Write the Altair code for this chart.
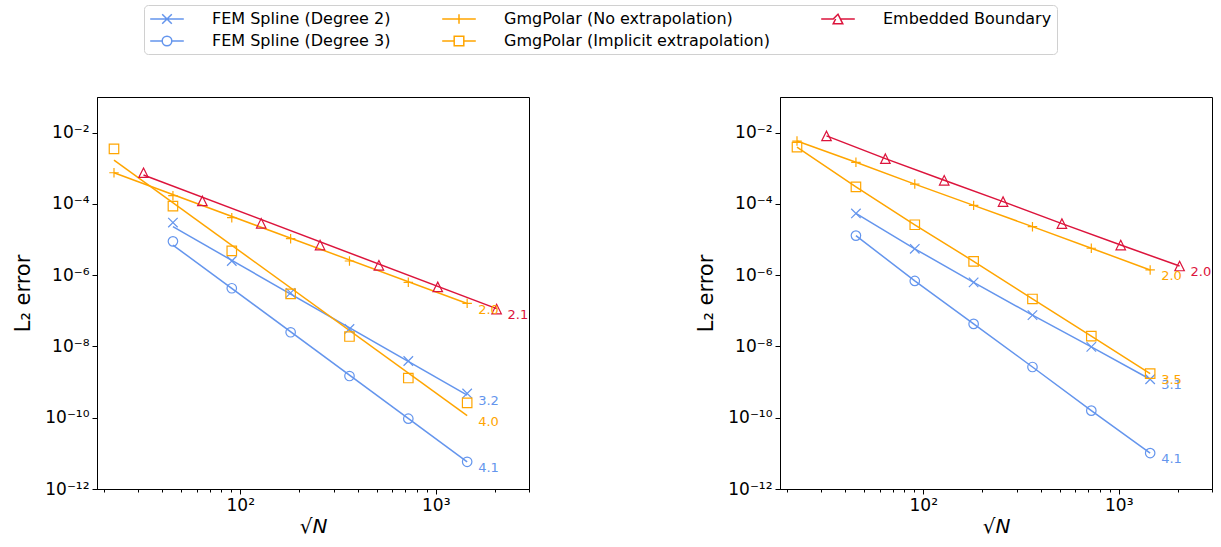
import math

import altair as alt
import pandas as pd

# ---------------------------------------------------------------- series
SERIES = [
    "FEM Spline (Degree 2)",
    "FEM Spline (Degree 3)",
    "GmgPolar (No extrapolation)",
    "GmgPolar (Implicit extrapolation)",
    "Embedded Boundary",
]
COLORS = ["#6495ED", "#6495ED", "#FFA500", "#FFA500", "#DC143C"]
# short keys for the marker / label channels (kept apart from the legend)
KEYS = ["k0", "k1", "k2", "k3", "k4"]

# sqrt(N) of the grids
x_fem = [45.25, 90.5, 181, 362, 724, 1448]
x_gmg = [22.6, 45.25, 90.5, 181, 362, 724, 1448]
x_eb = [32, 64, 128, 256, 512, 1024, 2048]

# ---------------------------------------------------------------- left case
left_fem2 = [3.0e-5, 2.5e-6, 3.2e-7, 3.1e-8, 3.9e-9, 4.8e-10]
left_fem3 = [8.9e-6, 4.3e-7, 2.5e-8, 1.48e-9, 9.4e-11, 5.8e-12]
left_gmg_no = [7.5e-4, 1.7e-4, 4.1e-5, 1.06e-5, 2.5e-6, 6.3e-7, 1.62e-7]
left_gmg_imp = [3.5e-3, 8.7e-5, 4.8e-6, 3.0e-7, 1.9e-8, 1.3e-9, 2.6e-10]
left_eb = [7.5e-4, 1.21e-4, 2.85e-5, 7.0e-6, 1.89e-6, 4.7e-7, 1.12e-7]

# fitted power-law lines (start and end point of each fit)
left_fit_x = [[45.25, 1448], [45.25, 1448], [22.6, 1448], [22.6, 1448], [32, 2048]]
left_fit_y = [[2.3e-5, 4.3e-10], [7.0e-6, 5.8e-12], [7.5e-4, 1.6e-7],
              [1.7e-3, 1.14e-10], [6.5e-4, 1.15e-7]]
left_rates = ["3.2", "4.1", "2.0", "4.0", "2.1"]

# ---------------------------------------------------------------- right case
right_fem2 = [5.4e-5, 5.5e-6, 6.3e-7, 7.6e-8, 9.7e-9, 1.2e-9]
right_fem3 = [1.29e-5, 6.9e-7, 4.3e-8, 2.65e-9, 1.58e-10, 1.02e-11]
right_gmg_no = [5.8e-3, 1.47e-3, 3.6e-4, 9.1e-5, 2.3e-5, 5.7e-6, 1.4e-6]
right_gmg_imp = [3.9e-3, 3.0e-4, 2.6e-5, 2.45e-6, 2.15e-7, 1.96e-8, 1.72e-9]
right_eb = [8.1e-3, 1.86e-3, 4.6e-4, 1.16e-4, 2.8e-5, 7.0e-6, 1.81e-6]
right_rates = ["3.1", "4.1", "2.0", "3.5", "2.0"]

# ---------------------------------------------------------------- axes
X_DOMAIN = [18.5, 3000]
Y_DOMAIN = [1e-12, 1e-1]
x_tick_values = [100, 1000]
x_tick_labels = ["10²", "10³"]
x_minor_values = [20, 30, 40, 50, 60, 70, 80, 90,
                  200, 300, 400, 500, 600, 700, 800, 900, 2000, 3000]
y_tick_values = [1e-12, 1e-10, 1e-8, 1e-6, 1e-4, 1e-2]
y_tick_labels = ["10⁻¹²", "10⁻¹⁰", "10⁻⁸", "10⁻⁶", "10⁻⁴", "10⁻²"]

FONT = "DejaVu Sans"


def label_expr(values, labels):
    parts = [
        f"round(log(datum.value)/LN10) == {round(math.log10(v))} ? '{t}'"
        for v, t in zip(values, labels)
    ]
    return " : ".join(parts) + " : ''"


def points_frame(xlists, ylists):
    rows = []
    for s, k, xs, ys in zip(SERIES, KEYS, xlists, ylists):
        rows += [{"series": s, "key": k, "x": a, "y": b} for a, b in zip(xs, ys)]
    return pd.DataFrame(rows)


def rate_frame(xlists, ylists, rates):
    return pd.DataFrame(
        [{"series": s, "key": k, "x": xs[-1], "y": ys[-1], "rate": r}
         for s, k, xs, ys, r in zip(SERIES, KEYS, xlists, ylists, rates)]
    )


left_x = [x_fem, x_fem, x_gmg, x_gmg, x_eb]
left_y = [left_fem2, left_fem3, left_gmg_no, left_gmg_imp, left_eb]
right_x = left_x
right_y = [right_fem2, right_fem3, right_gmg_no, right_gmg_imp, right_eb]

left_pts = points_frame(left_x, left_y)
left_lines = points_frame(left_fit_x, left_fit_y)
left_labels = rate_frame(left_fit_x, left_fit_y, left_rates)

right_pts = points_frame(right_x, right_y)
right_lines = right_pts
right_labels = rate_frame(right_x, right_y, right_rates)

# the legend fills its grid column by column, two rows per column
series_scale = alt.Scale(domain=SERIES, range=COLORS)
key_color_scale = alt.Scale(domain=KEYS, range=COLORS)

marker_paths = [
    "M-1,-1L1,1M-1,1L1,-1",          # x
    "circle",
    "M-1,0H1M0,-1V1",                # plus
    "square",
    "M0,-1L1,1L-1,1Z",               # triangle
]
shape_scale = alt.Scale(domain=KEYS, range=marker_paths)

# legend handles: a line segment with the marker drawn on it
handle_paths = [
    "M-2.1,0H2.1M-0.6,-0.6L0.6,0.6M-0.6,0.6L0.6,-0.6",
    "M-2.1,0H-0.6A0.6,0.6 0 1,1 0.6,0A0.6,0.6 0 1,1 -0.6,0M0.6,0H2.1",
    "M-2.1,0H2.1M0,-0.6V0.6",
    "M-2.1,0H-0.6V-0.6H0.6V0.6H-0.6V0M0.6,0H2.1",
    "M-2.1,0H-0.6L0,-0.6L0.6,0.6L-0.6,0.6L-0.3,0M0.3,0H2.1",
]
handle_expr = " : ".join(
    f"datum.value === '{s}' ? '{p}'" for s, p in zip(SERIES, handle_paths)
) + " : 'circle'"

legend = alt.Legend(
    orient="none",
    legendX=47,
    legendY=-92,
    columns=3,
    columnPadding=48,
    rowPadding=5,
    labelFont=FONT,
    labelFontSize=16,
    labelColor="black",
    labelLimit=400,
    labelOffset=36,
    symbolOffset=9,
    symbolSize=256,
    symbolType=alt.ExprRef(expr=handle_expr),
    symbolStrokeWidth=1.5,
    symbolFillColor="transparent",
    symbolOpacity=1,
    padding=5,
    strokeColor="#d0d0d0",
    fillColor="white",
    cornerRadius=4,
)

x_major_axis = alt.Axis(
    orient="bottom",
    values=x_tick_values,
    labelExpr=label_expr(x_tick_values, x_tick_labels),
    tickSize=5,
    labelPadding=3,
    labelFontSize=17,
    titleFontSize=20,
    titleFontStyle="italic",
    titlePadding=3,
    grid=False,
)
x_minor_axis = alt.Axis(
    orient="bottom",
    values=x_minor_values,
    labels=False,
    domain=False,
    tickSize=3,
    grid=False,
)
y_axis = alt.Axis(
    values=y_tick_values,
    labelExpr=label_expr(y_tick_values, y_tick_labels),
    tickSize=5,
    labelPadding=3,
    labelFontSize=17,
    titleFontSize=21,
    titlePadding=11,
    grid=False,
)


def panel(lines_df, pts_df, labels_df):
    xs = alt.Scale(type="log", domain=X_DOMAIN, nice=False)
    ys = alt.Scale(type="log", domain=Y_DOMAIN, nice=False)

    # the legend is keyed on the lines only; markers and rate labels get
    # their colour through their own stroke / fill channels
    lines = alt.Chart(lines_df).mark_line(strokeWidth=1.5).encode(
        x=alt.X("x:Q", scale=xs, axis=x_major_axis, title="√N"),
        y=alt.Y("y:Q", scale=ys, axis=y_axis, title="L₂ error"),
        color=alt.Color("series:N", scale=series_scale, legend=legend, title=None),
        order="x:Q",
    )
    marks = alt.Chart(pts_df).mark_point(
        filled=False, size=90, strokeWidth=1.2, opacity=1
    ).encode(
        x=alt.X("x:Q", scale=xs, axis=x_minor_axis, title=""),
        y=alt.Y("y:Q", scale=ys, axis=None),
        stroke=alt.Stroke("key:N", scale=key_color_scale, legend=None),
        shape=alt.Shape("key:N", scale=shape_scale, legend=None),
    )
    rates = alt.Chart(labels_df).mark_text(
        align="left", baseline="middle", dx=11, dy=6, fontSize=13, font=FONT
    ).encode(
        x=alt.X("x:Q", scale=xs, axis=None),
        y=alt.Y("y:Q", scale=ys, axis=None),
        text="rate:N",
        fill=alt.Fill("key:N", scale=key_color_scale, legend=None),
    )
    return (
        alt.layer(lines, marks, rates)
        .resolve_axis(x="independent", y="independent")
        .properties(width=432, height=392)
    )


left = panel(left_lines, left_pts, left_labels)
right = panel(right_lines, right_pts, right_labels)

chart = (
    alt.hconcat(left, right, spacing=251, bounds="flush")
    .resolve_scale(color="shared", shape="shared", stroke="shared", fill="shared")
    .properties(
        autosize=alt.AutoSizeParams(type="pad"),
        padding={"left": 12, "top": 4, "right": 0, "bottom": 0},
        background="white",
    )
    .configure_view(stroke="black", strokeWidth=1)
    .configure_axis(
        labelFont=FONT,
        titleFont=FONT,
        titleFontWeight="normal",
        labelColor="black",
        titleColor="black",
        domainColor="black",
        tickColor="black",
    )
)

chart.save("out.html", embed_options={"renderer": "svg", "actions": False})
